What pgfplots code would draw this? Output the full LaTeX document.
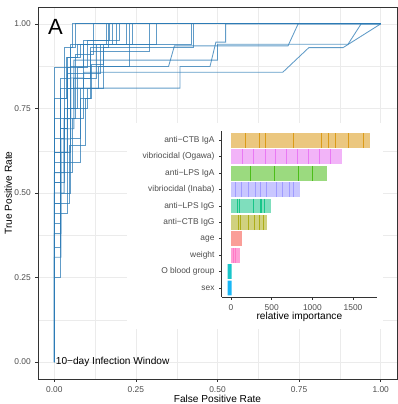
\documentclass[border=0pt]{standalone}
\usepackage{fontspec}
\setmainfont{Liberation Sans}
\usepackage{pgfplots}
\pgfplotsset{compat=1.18}
\definecolor{roc}{RGB}{44,123,182}
\definecolor{gtick}{RGB}{77,77,77}
\definecolor{gborder}{RGB}{51,51,51}
\definecolor{ggrid}{RGB}{235,235,235}
\definecolor{cAge}{HTML}{F8766D}
\definecolor{cCTBA}{HTML}{D89000}
\definecolor{cCTBG}{HTML}{A3A500}
\definecolor{cLPSA}{HTML}{39B600}
\definecolor{cLPSG}{HTML}{00BF7D}
\definecolor{cO}{HTML}{00BFC4}
\definecolor{cSex}{HTML}{00B0F6}
\definecolor{cInaba}{HTML}{9590FF}
\definecolor{cOgawa}{HTML}{E76BF3}
\definecolor{cWeight}{HTML}{FF62BC}
\pgfplotsset{rocline/.style={roc, line width=0.65pt, opacity=0.75, mark=none, solid}}
\begin{document}
\begin{tikzpicture}
\begin{axis}[
  at={(0pt,0pt)}, anchor=south west,
  scale only axis, width=269.25pt, height=279pt,
  xmin=-0.05, xmax=1.05, ymin=-0.05, ymax=1.05,
  xtick={0,0.25,0.5,0.75,1}, xticklabels={0.00,0.25,0.50,0.75,1.00},
  ytick={0,0.25,0.5,0.75,1}, yticklabels={0.00,0.25,0.50,0.75,1.00},
  minor xtick={0.125,0.375,0.625,0.875},
  minor ytick={0.125,0.375,0.625,0.875},
  grid=both,
  major grid style={ggrid, line width=0.6pt},
  minor grid style={ggrid, line width=0.3pt},
  axis line style={gborder, line width=0.6pt},
  tick align=outside, tick pos=left,
  major tick length=1.9pt, minor tick length=0pt,
  tick style={gborder, line width=0.5pt},
  ticklabel style={font=\fontsize{6.3}{7}\selectfont, text=gtick},
  xlabel={False Positive Rate}, ylabel={True Positive Rate},
  every axis x label/.style={at={(axis description cs:0.5,-0.0645)}, anchor=base, font=\fontsize{7.6}{9}\selectfont},
  every axis y label/.style={at={(axis description cs:-0.073,0.5)}, rotate=90, anchor=base, font=\fontsize{7.6}{9}\selectfont},
]
\addplot[rocline] coordinates {(0,0)(0,0.87)(0.05,0.87)(0.05,0.94)(0.19,0.94)(0.19,1)(1,1)};
\addplot[rocline] coordinates {(0,0)(0,0.25)(0.02,0.25)(0.02,0.78)(0.04,0.78)(0.04,0.9)(0.07,0.9)(0.07,0.94)(0.16,0.94)(0.16,1)(1,1)};
\addplot[rocline] coordinates {(0,0)(0,0.56)(0.03,0.56)(0.03,0.72)(0.05,0.72)(0.05,0.84)(0.09,0.84)(0.09,0.857)(0.70,0.857)(0.78,0.93)(0.885,0.93)(1,1)};
\addplot[rocline] coordinates {(0,0)(0,0.38)(0.02,0.38)(0.02,0.62)(0.04,0.62)(0.04,0.75)(0.06,0.75)(0.06,0.81)(0.385,0.81)(0.385,0.874)(0.477,0.874)(0.495,0.946)(0.525,0.946)(0.525,1)(1,1)};
\addplot[rocline] coordinates {(0,0)(0,0.31)(0.02,0.31)(0.02,0.66)(0.05,0.66)(0.05,0.874)(0.35,0.874)(0.368,0.935)(0.716,0.935)(0.747,1)(1,1)};
\addplot[rocline] coordinates {(0,0)(0,0.5)(0.03,0.5)(0.03,0.69)(0.06,0.69)(0.06,0.893)(0.50,0.893)(0.50,0.94)(0.90,0.94)(0.94,1)(1,1)};
\addplot[rocline] coordinates {(0,0)(0,0.62)(0.02,0.62)(0.02,0.81)(0.03,0.81)(0.03,0.93)(0.056,0.93)(0.056,1)(1,1)};
\addplot[rocline] coordinates {(0,0)(0,0.44)(0.04,0.44)(0.04,0.59)(0.08,0.59)(0.08,0.78)(0.11,0.78)(0.11,0.92)(0.29,0.92)(0.29,1)(1,1)};
\addplot[rocline] coordinates {(0,0)(0,0.47)(0.02,0.47)(0.02,0.56)(0.057,0.56)(0.057,0.72)(0.09,0.72)(0.09,0.84)(0.13,0.84)(0.13,0.94)(0.22,0.94)(0.22,1)(1,1)};
\addplot[rocline] coordinates {(0,0)(0,0.53)(0.03,0.53)(0.03,0.75)(0.07,0.75)(0.07,0.87)(0.10,0.87)(0.10,0.95)(0.17,0.95)(0.17,1)(1,1)};
\addplot[rocline] coordinates {(0,0)(0,0.41)(0.02,0.41)(0.02,0.5)(0.05,0.5)(0.05,0.66)(0.079,0.66)(0.079,0.81)(0.15,0.81)(0.15,0.94)(0.42,0.94)(0.42,1)(1,1)};
\addplot[rocline] coordinates {(0,0)(0,0.59)(0.04,0.59)(0.04,0.81)(0.06,0.81)(0.06,0.84)(0.11,0.84)(0.11,0.93)(0.23,0.93)(0.23,1)(1,1)};
\addplot[rocline] coordinates {(0,0)(0,0.34)(0.02,0.34)(0.02,0.69)(0.04,0.69)(0.04,0.855)(0.14,0.855)(0.14,0.94)(0.314,0.94)(0.314,1)(1,1)};
\addplot[rocline] coordinates {(0,0)(0,0.56)(0.02,0.56)(0.02,0.72)(0.066,0.72)(0.066,0.91)(0.12,0.91)(0.12,1)(1,1)};
\addplot[rocline] coordinates {(0,0)(0,0.78)(0.036,0.78)(0.036,0.9)(0.08,0.9)(0.08,0.94)(0.24,0.94)(0.24,1)(1,1)};
\addplot[rocline] coordinates {(0,0)(0,0.47)(0.045,0.47)(0.045,0.64)(0.094,0.64)(0.094,0.78)(0.115,0.78)(0.115,0.88)(0.15,0.88)(0.15,0.93)(0.165,0.93)(0.165,1)(1,1)};
\addplot[rocline] coordinates {(0,0)(0,0.72)(0.02,0.72)(0.02,0.84)(0.05,0.84)(0.05,0.93)(0.066,0.93)(0.066,1)(1,1)};
\addplot[rocline] coordinates {(0,0)(0,0.66)(0.03,0.66)(0.03,0.81)(0.088,0.81)(0.088,0.94)(0.177,0.94)(0.177,1)(1,1)};
\addplot[rocline] coordinates {(0,0)(0,0.62)(0.05,0.62)(0.05,0.75)(0.1,0.75)(0.1,0.81)(0.134,0.81)(0.134,0.875)(0.23,0.875)(0.23,0.93)(0.425,0.93)(0.425,1)(1,1)};
\addplot[rocline] coordinates {(0,0)(0,0.53)(0.02,0.53)(0.02,0.69)(0.04,0.69)(0.04,0.87)(0.09,0.87)(0.09,0.95)(0.2,0.95)(0.2,1)(1,1)};
\node[anchor=base west, inner sep=0pt, font=\fontsize{16.5}{18}\selectfont] at (axis cs:-0.02,0.97) {A};
\node[anchor=west, inner sep=0pt, font=\fontsize{7.6}{9}\selectfont] at (axis cs:0.004,0) {10−day Infection Window};
\end{axis}
\fill[white] (66.75pt,37.5pt) rectangle (258.75pt,192pt);
\begin{axis}[
  at={(137.8pt,61.5pt)}, anchor=south west,
  scale only axis, width=116.5pt, height=124.2pt,
  xmin=-115, xmax=1796, ymin=-0.55, ymax=9.55,
  axis x line*=bottom, axis y line*=left,
  axis line style={-, gborder, line width=0.6pt},
  xtick={0,500,1000,1500}, xticklabels={0,500,1000,1500},
  ytick={0,1,2,3,4,5,6,7,8,9},
  yticklabels={sex, O blood group, weight, age, anti−CTB IgG, anti−LPS IgG, vibriocidal (Inaba), anti−LPS IgA, vibriocidal (Ogawa), anti−CTB IgA},
  tick align=outside, major tick length=1.9pt,
  tick style={gborder, line width=0.5pt},
  ticklabel style={font=\fontsize{6.3}{7}\selectfont, text=gtick},
  xlabel={relative importance},
  every axis x label/.style={at={(axis description cs:0.5,-0.137)}, anchor=base, font=\fontsize{7.6}{9}\selectfont},
]
\addplot[xbar, bar shift=0pt, bar width=0.9, fill=cCTBA, fill opacity=0.5, draw=none] coordinates {(1705,9)};
\addplot[xbar, bar shift=0pt, bar width=0.9, fill=cOgawa, fill opacity=0.5, draw=none] coordinates {(1365,8)};
\addplot[xbar, bar shift=0pt, bar width=0.9, fill=cLPSA, fill opacity=0.5, draw=none] coordinates {(1180,7)};
\addplot[xbar, bar shift=0pt, bar width=0.9, fill=cInaba, fill opacity=0.5, draw=none] coordinates {(848,6)};
\addplot[xbar, bar shift=0pt, bar width=0.9, fill=cLPSG, fill opacity=0.5, draw=none] coordinates {(488,5)};
\addplot[xbar, bar shift=0pt, bar width=0.9, fill=cCTBG, fill opacity=0.5, draw=none] coordinates {(439,4)};
\addplot[xbar, bar shift=0pt, bar width=0.9, fill=cAge, fill opacity=0.7, draw=none] coordinates {(131,3)};
\addplot[xbar, bar shift=0pt, bar width=0.9, fill=cWeight, fill opacity=0.6, draw=none] coordinates {(111,2)};
\addplot[xbar, bar shift=0pt, bar width=0.9, fill=cO, fill opacity=0.9, draw=none] coordinates {(-41,1) (8,1)};
\addplot[xbar, bar shift=0pt, bar width=0.9, fill=cSex, fill opacity=0.9, draw=none] coordinates {(-41,0) (8,0)};
\addplot[only marks, mark=|, mark size=5.5pt, mark options={cCTBA, line width=0.6pt, opacity=0.8}] coordinates {(180,9)(348,9)(422,9)(766,9)(1111,9)(1197,9)(1287,9)(1443,9)(1631,9)};
\addplot[only marks, mark=|, mark size=5.5pt, mark options={cOgawa, line width=0.6pt, opacity=0.8}] coordinates {(143,8)(279,8)(418,8)(541,8)(676,8)(811,8)(951,8)(1086,8)(1221,8)};
\addplot[only marks, mark=|, mark size=5.5pt, mark options={cLPSA, line width=0.6pt, opacity=0.8}] coordinates {(238,7)(529,7)(828,7)(1000,7)};
\addplot[only marks, mark=|, mark size=5.5pt, mark options={cInaba, line width=0.6pt, opacity=0.8}] coordinates {(49,6)(123,6)(213,6)(303,6)(365,6)(439,6)(553,6)(635,6)(717,6)(766,6)};
\addplot[only marks, mark=|, mark size=5.5pt, mark options={cLPSG, line width=0.6pt, opacity=0.8}] coordinates {(82,5)(98,5)(275,5)(357,5)(377,5)(406,5)};
\addplot[only marks, mark=|, mark size=5.5pt, mark options={cCTBG, line width=0.6pt, opacity=0.8}] coordinates {(90,4)(119,4)(213,4)(283,4)(348,4)(398,4)};
\addplot[only marks, mark=|, mark size=5.5pt, mark options={cWeight, line width=0.6pt, opacity=0.6}] coordinates {(29,2)(57,2)};
\end{axis}
\pgfresetboundingbox
\path[use as bounding box] (-28.5pt,-18.75pt) rectangle (269.25pt,284.25pt);
\end{tikzpicture}
\end{document}
